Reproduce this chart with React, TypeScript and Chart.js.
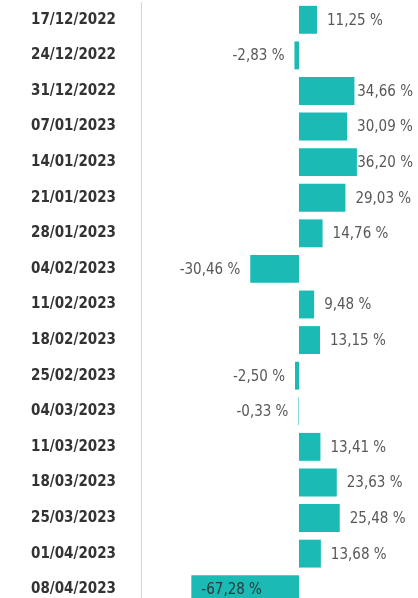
import React, { useEffect, useRef } from "react";
import { Chart, registerables } from "chart.js";

Chart.register(...registerables);

const weeks = [
  "17/12/2022", "24/12/2022", "31/12/2022", "07/01/2023", "14/01/2023",
  "21/01/2023", "28/01/2023", "04/02/2023", "11/02/2023", "18/02/2023",
  "25/02/2023", "04/03/2023", "11/03/2023", "18/03/2023", "25/03/2023",
  "01/04/2023", "08/04/2023",
];
const changePct = [
  11.25, -2.83, 34.66, 30.09, 36.2, 29.03, 14.76, -30.46, 9.48, 13.15,
  -2.5, -0.33, 13.41, 23.63, 25.48, 13.68, -67.28,
];
const xMin = -98.75;
const xMax = 74.4;

const BAR_COLOR = "#1BBAB5";
const LABEL_FONT = "15px 'DejaVu Sans Condensed', 'DejaVu Sans', sans-serif";

const fmt = (v: number) => v.toFixed(2).replace(".", ",") + " %";

const labelPlugin = {
  id: "barLabels",
  afterDatasetsDraw(chart: any) {
    const ctx = chart.ctx;
    const meta = chart.getDatasetMeta(0);
    const area = chart.chartArea;
    ctx.save();
    ctx.font = LABEL_FONT;
    ctx.textBaseline = "middle";
    meta.data.forEach((bar: any, i: number) => {
      const v = changePct[i];
      const text = fmt(v);
      const w = ctx.measureText(text).width;
      const gap = 10;
      if (v >= 0) {
        let x = bar.x + gap;
        const limit = chart.width - 5;
        if (x + w > limit) x = Math.max(bar.x - 1, limit - w);
        ctx.fillStyle = "#5A5856";
        ctx.textAlign = "left";
        ctx.fillText(text, x, bar.y + 1);
      } else {
        const outside = bar.x - gap - w;
        if (outside >= area.left) {
          ctx.fillStyle = "#5A5856";
          ctx.textAlign = "right";
          ctx.fillText(text, bar.x - gap, bar.y + 1);
        } else {
          ctx.fillStyle = "#2B3A3A";
          ctx.textAlign = "left";
          ctx.fillText(text, bar.x + 10, bar.y + 1);
        }
      }
    });
    ctx.restore();
  },
};

export default function App() {
  const ref = useRef<HTMLCanvasElement | null>(null);
  useEffect(() => {
    if (!ref.current) return;
    const chart = new Chart(ref.current, {
      type: "bar",
      data: {
        labels: weeks,
        datasets: [
          {
            data: changePct,
            backgroundColor: BAR_COLOR,
            borderWidth: 0,
            categoryPercentage: 0.8,
            barPercentage: 0.98,
          },
        ],
      },
      options: {
        indexAxis: "y",
        animation: false,
        responsive: false,
        maintainAspectRatio: false,
        layout: { padding: { top: 2, bottom: 0, left: 0, right: 0 } },
        plugins: {
          legend: { display: false },
          tooltip: { enabled: false },
        },
        scales: {
          x: {
            display: false,
            min: xMin,
            max: xMax,
          },
          y: {
            grid: { display: false },
            border: { display: true, color: "#D6D6D6", dash: [1, 4], width: 1 },
            afterFit: (scale: any) => {
              scale.width = 141;
              scale.paddingTop = 0;
              scale.paddingBottom = 0;
            },
            ticks: {
              padding: 17,
              color: "#333333",
              font: {
                family: "'DejaVu Sans Condensed', 'DejaVu Sans', sans-serif",
                size: 15,
                weight: "bold",
              },
            },
          },
        },
      },
      plugins: [labelPlugin],
    });
    return () => chart.destroy();
  }, []);

  return (
    <div
      style={{
        position: "fixed",
        top: 0,
        left: 0,
        width: 418,
        height: 598,
        overflow: "hidden",
        background: "#fff",
      }}
    >
      <canvas ref={ref} width={418} height={607} style={{ display: "block" }} />
    </div>
  );
}
